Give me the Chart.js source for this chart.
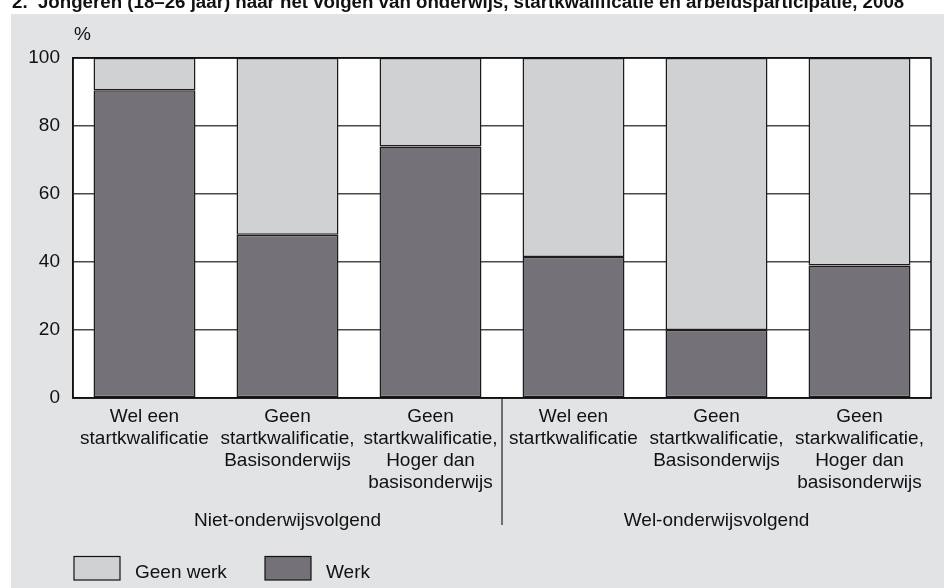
<!DOCTYPE html>
<html>
<head>
<meta charset="utf-8">
<script src="https://cdn.jsdelivr.net/npm/chart.js@4/dist/chart.umd.min.js"></script>
<style>
html,body{margin:0;padding:0;background:#fff;}
canvas{display:block;}
</style>
</head>
<body>
<canvas id="c" width="944" height="588"></canvas>
<script>
const titleText = "2.  Jongeren (18–26 jaar) naar het volgen van onderwijs, startkwalificatie en arbeidsparticipatie, 2008";
const unitLabel = "%";
const categories = [
  ["Wel een", "startkwalificatie"],
  ["Geen", "startkwalificatie,", "Basisonderwijs"],
  ["Geen", "startkwalificatie,", "Hoger dan", "basisonderwijs"],
  ["Wel een", "startkwalificatie"],
  ["Geen", "startkwalificatie,", "Basisonderwijs"],
  ["Geen", "starkwalificatie,", "Hoger dan", "basisonderwijs"]
];
const groups = ["Niet-onderwijsvolgend", "Wel-onderwijsvolgend"];
const groupSizes = [3, 3];
const werk = [90.5, 48, 74, 41.5, 20, 39];
const geenWerk = [9.5, 52, 26, 58.5, 80, 61];
const yTicks = [0, 20, 40, 60, 80, 100];

const FONT = "'Liberation Sans', Arial, Helvetica, sans-serif";
const DARK = "#747278";
const LIGHT = "#d0d1d3";
const PANEL = "#e2e3e5";

const decor = {
  id: "decor",
  beforeDraw(chart) {
    const ctx = chart.ctx, a = chart.chartArea;
    ctx.save();
    ctx.fillStyle = "#fff";
    ctx.fillRect(0, 0, chart.width, chart.height);
    ctx.fillStyle = PANEL;
    ctx.fillRect(11, 14, chart.width - 11, chart.height - 14);
    ctx.fillStyle = "#fff";
    ctx.fillRect(a.left, a.top, a.right - a.left, a.bottom - a.top);
    ctx.restore();
  },
  afterDraw(chart) {
    const ctx = chart.ctx, a = chart.chartArea, x = chart.scales.x;
    ctx.save();
    ctx.strokeStyle = "#111";
    ctx.lineWidth = 1.5;
    ctx.strokeRect(a.left, a.top, a.right - a.left, a.bottom - a.top);
    ctx.fillStyle = "#111";
    ctx.font = "bold 18.7px " + FONT;
    ctx.textBaseline = "alphabetic";
    ctx.textAlign = "left";
    ctx.fillText(titleText, 12, 8);
    ctx.font = "19px " + FONT;
    ctx.fillText(unitLabel, 74, 40);
    ctx.textAlign = "center";
    let start = 0;
    groups.forEach((g, i) => {
      const end = start + groupSizes[i] - 1;
      const cx = (x.getPixelForValue(start) + x.getPixelForValue(end)) / 2;
      ctx.fillText(g, cx, 525.5);
      if (i < groups.length - 1) {
        const sx = (x.getPixelForValue(end) + x.getPixelForValue(end + 1)) / 2;
        ctx.strokeStyle = "#222";
        ctx.lineWidth = 1.2;
        ctx.beginPath();
        ctx.moveTo(sx, a.bottom);
        ctx.lineTo(sx, 525);
        ctx.stroke();
      }
      start = end + 1;
    });
    const items = [
      { label: chart.data.datasets[1].label, color: chart.data.datasets[1].backgroundColor, x: 74 },
      { label: chart.data.datasets[0].label, color: chart.data.datasets[0].backgroundColor, x: 265 }
    ];
    ctx.textAlign = "left";
    items.forEach(it => {
      ctx.fillStyle = it.color;
      ctx.fillRect(it.x, 556.5, 46, 23.5);
      ctx.strokeStyle = "#111";
      ctx.lineWidth = 1.2;
      ctx.strokeRect(it.x, 556.5, 46, 23.5);
      ctx.fillStyle = "#111";
      ctx.fillText(it.label, it.x + 61, 578);
    });
    ctx.restore();
  }
};

new Chart(document.getElementById("c"), {
  type: "bar",
  data: {
    labels: categories,
    datasets: [
      { label: "Werk", data: werk, backgroundColor: DARK, borderColor: "#1c1c1c", borderWidth: 1.5, borderSkipped: false },
      { label: "Geen werk", data: geenWerk, backgroundColor: LIGHT, borderColor: "#1c1c1c", borderWidth: 1.5, borderSkipped: false }
    ]
  },
  options: {
    responsive: false,
    animation: false,
    devicePixelRatio: 1,
    layout: { padding: { left: 0, top: 58, right: 13, bottom: 0 } },
    datasets: { bar: { categoryPercentage: 1, barPercentage: 0.713 } },
    plugins: { legend: { display: false }, title: { display: false }, tooltip: { enabled: false } },
    scales: {
      x: {
        stacked: true,
        grid: { display: false, drawTicks: false },
        border: { display: true, color: "#111", width: 1.5 },
        ticks: {
          autoSkip: false, maxRotation: 0, minRotation: 0, padding: 8,
          color: "#111",
          font: { family: FONT, size: 19, lineHeight: 1.158 }
        },
        afterFit(s) { s.height = 190; }
      },
      y: {
        stacked: true,
        min: 0, max: 100,
        afterBuildTicks(s) { s.ticks = yTicks.map(v => ({ value: v })); },
        grid: {
          drawTicks: false,
          color: c => (c.tick && c.tick.value === 100) ? "#111" : "#4a4a4a",
          lineWidth: 1.5
        },
        border: { display: true, color: "#111", width: 1.5 },
        ticks: { padding: 13, color: "#111", font: { family: FONT, size: 19 } },
        afterFit(s) { s.width = 73; }
      }
    }
  },
  plugins: [decor]
});
</script>
</body>
</html>
